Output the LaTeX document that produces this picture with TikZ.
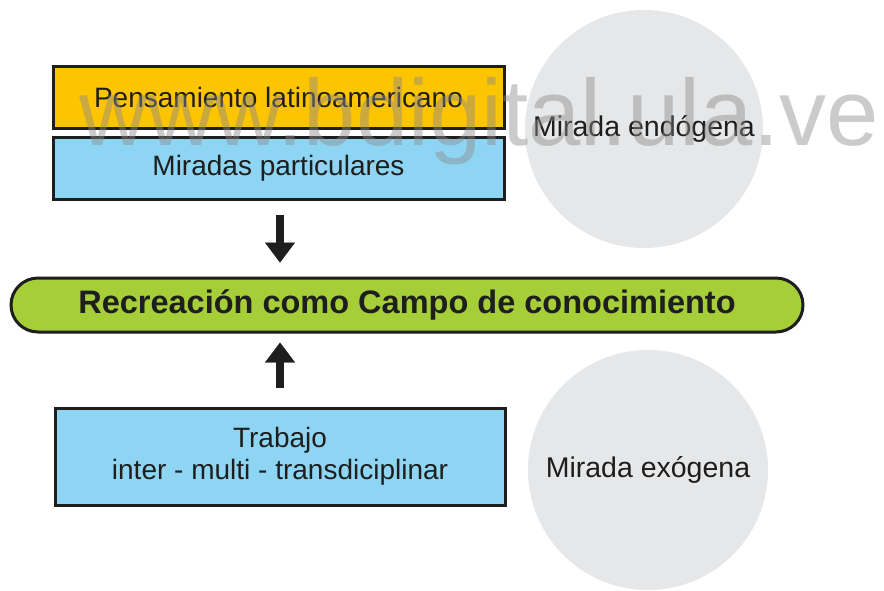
\documentclass[tikz,border=0pt]{standalone}
\usepackage{fontspec}
\setmainfont{Liberation Sans}
\usetikzlibrary{arrows.meta}
\definecolor{yel}{RGB}{253,196,0}
\definecolor{sky}{RGB}{142,213,243}
\definecolor{lime}{RGB}{166,206,57}
\definecolor{circ}{RGB}{230,231,232}
\definecolor{edge}{RGB}{30,30,30}
\definecolor{txt}{RGB}{30,30,30}
\tikzset{
  box/.style={draw=edge, line width=3pt, inner sep=0pt, minimum width=451pt, text=txt,
    font=\fontsize{28}{32}\selectfont, align=center},
  bubble/.style={circle, fill=circ, inner sep=0pt, text=txt, font=\fontsize{28.5}{32}\selectfont},
  bigarrow/.style={edge, line width=8pt, -{Triangle[width=30pt,length=20pt,line width=0.1pt]}},
}
\begin{document}
\begin{tikzpicture}[x=1pt,y=-1pt]
\useasboundingbox (0,0) rectangle (884,590);
\fill[white] (0,0) rectangle (884,590);
% circles
\node[bubble, minimum size=238pt] (endo) at (644,129) {Mirada endógena};
\node[bubble, minimum size=240pt] (exo) at (648,470) {Mirada exógena};
% boxes
\node[box, fill=yel, minimum height=62pt] (pens) at (278.5,97) {Pensamiento latinoamericano};
\node[box, fill=sky, minimum height=62pt] (mir) at (278.5,168) {Miradas particulares};
\node[box, fill=sky, minimum height=97pt, minimum width=450pt] (trab) at (280,456.5) {Trabajo\\inter - multi - transdiciplinar};
\node[draw=edge, line width=3pt, fill=lime, rounded corners=27pt, minimum width=792pt, minimum height=54pt,
  inner sep=0pt, text=txt, font=\bfseries\fontsize{32.5}{36}\selectfont] (rec) at (407,305) {Recreación como Campo de conocimiento};
% arrows
\coordinate (d1) at (mir.south -| 280,0);
\coordinate (d2) at (rec.north -| 280,0);
\draw[bigarrow, shorten <=14.5pt, shorten >=14pt] (mir.south -| d1) -- (rec.north -| d2);
\coordinate (u1) at (trab.north -| 280,0);
\coordinate (u2) at (rec.south -| 280,0);
\draw[bigarrow, shorten <=18.5pt, shorten >=9pt] (trab.north -| u1) -- (rec.south -| u2);
% watermark
\node[anchor=base west, inner sep=0pt, text=black!45, opacity=0.45, font=\fontsize{94}{100}\selectfont] (wm) at (79,145) {www.bdigital.ula.ve};
\end{tikzpicture}
\end{document}
